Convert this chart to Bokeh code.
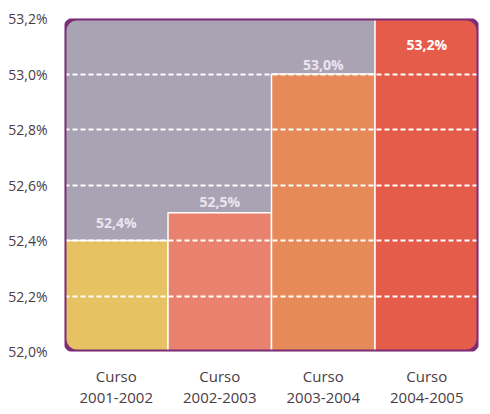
from bokeh.plotting import figure
from bokeh.models import ColumnDataSource, FixedTicker, BoxAnnotation, Range1d
from bokeh.core.properties import value
from bokeh.embed import file_html
from bokeh.resources import INLINE

# ---- data ----
categories = ["Curso\n2001-2002", "Curso\n2002-2003", "Curso\n2003-2004", "Curso\n2004-2005"]
values = [52.4, 52.5, 53.0, 53.2]
value_labels = ["52,4%", "52,5%", "53,0%", "53,2%"]
y_ticks = [52.0, 52.2, 52.4, 52.6, 52.8, 53.0, 53.2]
y_tick_labels = ["52,0%", "52,2%", "52,4%", "52,6%", "52,8%", "53,0%", "53,2%"]

# ---- styles ----
bar_colors = ["#e6c262", "#e8826e", "#e68a5a", "#e65c4b"]
label_colors = ["#ebe5ef", "#ebe5ef", "#ebe5ef", "#ffffff"]
label_styles = ["bold", "bold", "bold", "bold"]
label_offsets = [-18, -11, -10, 26]
bg_gray = "#aaa3b4"
purple = "#7b2d78"
text_dark = "#4a3c44"
FONT = "Open Sans"

FW, FH = 414, 333
X0, X1 = -0.5, 3.5
Y0, Y1 = 52.0, 53.2
RADIUS = 12

xs = list(range(len(categories)))
src = ColumnDataSource(dict(x=xs, top=values, color=bar_colors, lab=value_labels,
                            lcol=label_colors, lsty=label_styles, off=label_offsets))

p = figure(x_range=Range1d(X0, X1), y_range=Range1d(Y0, Y1),
           frame_width=FW, frame_height=FH,
           min_border_left=64, min_border_right=4, min_border_top=18, min_border_bottom=55,
           output_backend="svg", toolbar_location=None)
p.background_fill_color = "white"
p.border_fill_color = "white"
p.outline_line_color = None

# background gray with rounded corners
p.add_layout(BoxAnnotation(left=X0, right=X1, bottom=Y0, top=Y1,
                           fill_color=bg_gray, fill_alpha=1, line_color=None,
                           border_radius=RADIUS, level="underlay"))

p.vbar(x="x", top="top", bottom=Y0, width=1, fill_color="color",
       line_color="white", line_width=1.5, source=src)

p.text(x="x", y="top", text="lab", y_offset="off", text_align="center",
       text_baseline="middle", text_color="lcol", text_font_style="lsty",
       text_font=value(FONT), text_font_size="14px", source=src)

# grid
p.xgrid.visible = False
p.ygrid.ticker = FixedTicker(ticks=y_ticks[1:-1])
p.ygrid.grid_line_color = "white"
p.ygrid.grid_line_width = 2
p.ygrid.grid_line_dash = "5 3"
p.ygrid.level = "annotation"

# white mask outside rounded corners (expanded by d px, stroke width 2d)
d = 3
dx = d * (X1 - X0) / FW
dy = d * (Y1 - Y0) / FH
p.add_layout(BoxAnnotation(left=X0 - dx, right=X1 + dx, bottom=Y0 - dy, top=Y1 + dy,
                           fill_alpha=0, line_color="white", line_alpha=1, line_width=2 * d,
                           border_radius=RADIUS + d, level="overlay"))
# purple border
p.add_layout(BoxAnnotation(left=X0, right=X1, bottom=Y0, top=Y1,
                           fill_alpha=0, line_color=purple, line_alpha=1, line_width=4,
                           border_radius=RADIUS, level="overlay"))

# axes
p.yaxis.ticker = FixedTicker(ticks=y_ticks)
p.yaxis.major_label_overrides = {t: l for t, l in zip(y_ticks, y_tick_labels)}
p.xaxis.ticker = FixedTicker(ticks=xs)
p.xaxis.major_label_overrides = {x: c for x, c in zip(xs, categories)}
for ax in (p.xaxis, p.yaxis):
    ax.axis_line_color = None
    ax.major_tick_line_color = None
    ax.minor_tick_line_color = None
    ax.major_label_text_color = text_dark
    ax.major_label_text_font = FONT
p.yaxis.major_label_text_font_size = "14px"
p.yaxis.major_label_standoff = 11
p.xaxis.major_label_text_font_size = "15px"
p.xaxis.major_label_text_line_height = 1.05
p.xaxis.major_label_standoff = 8

open("out.html", "w").write(file_html(p, INLINE))
